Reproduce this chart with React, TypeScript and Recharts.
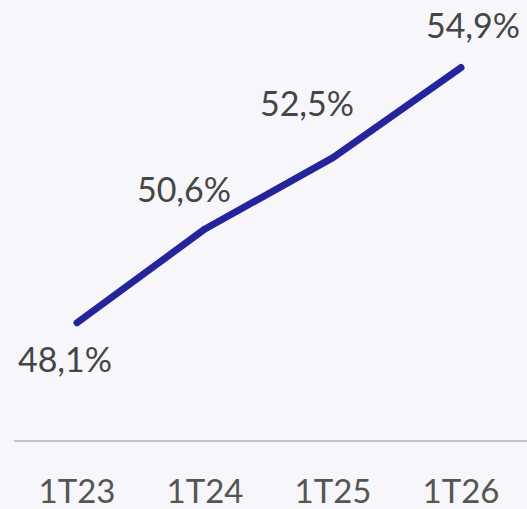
import React from "react";
import { LineChart, Line, XAxis, YAxis, LabelList } from "recharts";

const quarters = ["1T23", "1T24", "1T25", "1T26"];
const shares = [48.1, 50.6, 52.5, 54.9];
const labelOffsets = [
  { dx: -12, dy: 49 },
  { dx: -21, dy: -27 },
  { dx: -26, dy: -42 },
  { dx: 12, dy: -30 },
];

const data = quarters.map((q, i) => ({ q, share: shares[i] }));

const fontFamily = "Lato, 'Open Sans', sans-serif";

const renderLabel = (props: any) => {
  const { x, y, value, index } = props;
  const off = labelOffsets[index] ?? { dx: 0, dy: -20 };
  return (
    <text
      x={Number(x) + off.dx}
      y={Number(y) + off.dy}
      textAnchor="middle"
      fill="#454545"
      fontSize={34}
      fontFamily={fontFamily}
    >
      {String(value.toFixed(1)).replace(".", ",")}%
    </text>
  );
};

const renderTick = (props: any) => {
  const { x, payload } = props;
  return (
    <text
      x={x}
      y={503}
      textAnchor="middle"
      fill="#555555"
      fontSize={33}
      fontFamily={fontFamily}
    >
      {payload.value}
    </text>
  );
};

export default function App() {
  return (
    <div style={{ position: "absolute", left: 0, top: 0, width: 527, height: 509, background: "#f7f7fb" }}>
      <LineChart
        width={527}
        height={509}
        data={data}
        margin={{ top: 0, right: 0, left: 14, bottom: 0 }}
      >
        <XAxis
          dataKey="q"
          height={68}
          padding={{ left: 63, right: 66 }}
          axisLine={{ stroke: "#c4c4c6", strokeWidth: 2 }}
          tickLine={false}
          tick={renderTick}
          interval={0}
        />
        <YAxis hide domain={[44.95, 56.7]} />
        <Line
          dataKey="share"
          stroke="#25259b"
          strokeWidth={7}
          strokeLinecap="round"
          strokeLinejoin="round"
          dot={false}
          isAnimationActive={false}
        >
          <LabelList dataKey="share" content={renderLabel} />
        </Line>
      </LineChart>
    </div>
  );
}
